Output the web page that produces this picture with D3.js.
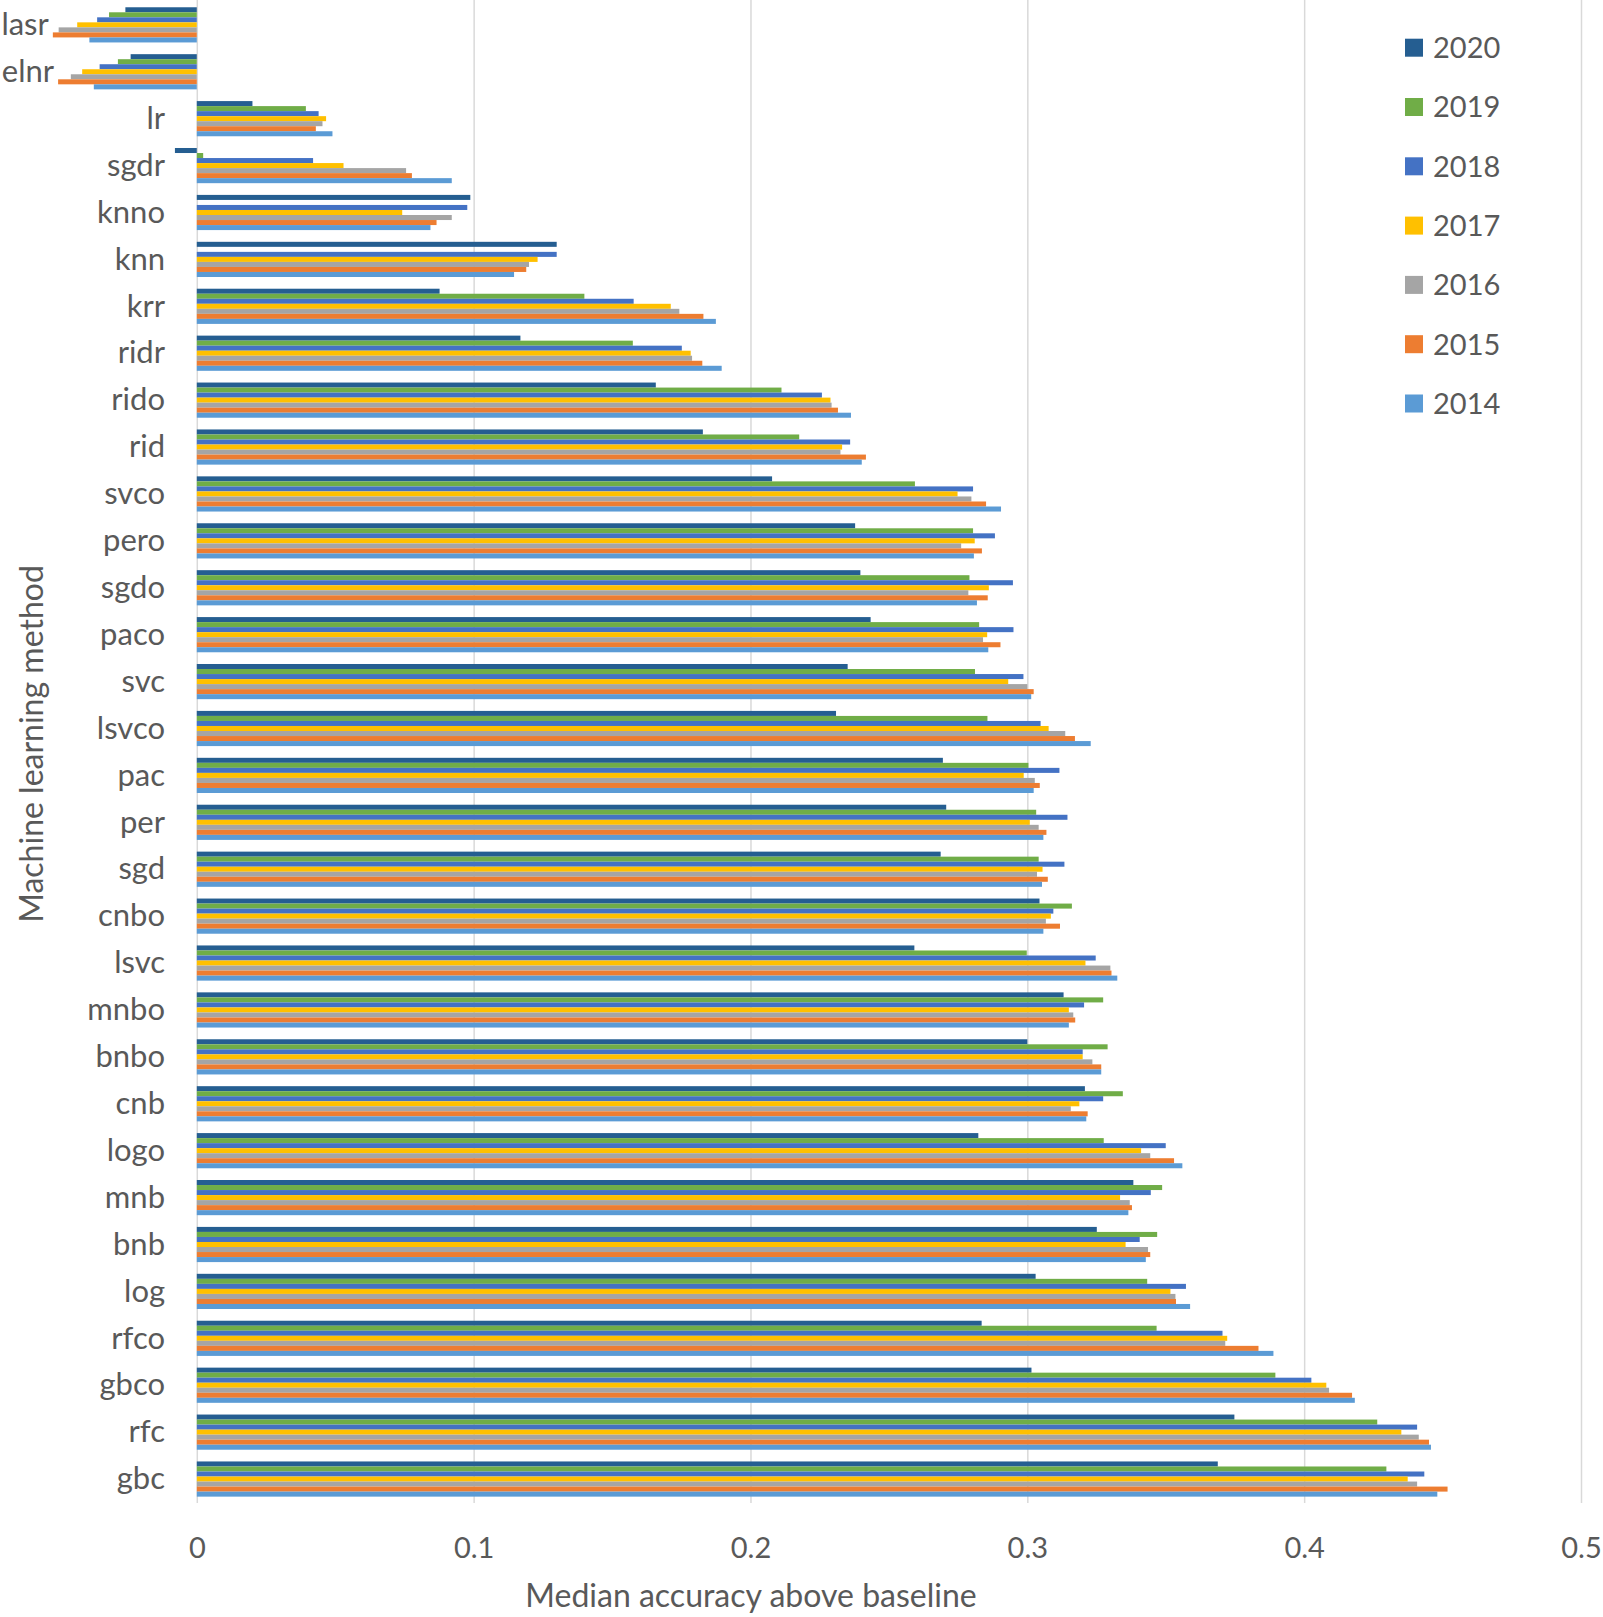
<!DOCTYPE html>
<html>
<head>
<meta charset="utf-8">
<script src="https://cdn.jsdelivr.net/npm/d3@7"></script>
<style>
  html, body { margin: 0; padding: 0; background: #ffffff; }
  svg { display: block; }
  text { font-family: Lato, "Open Sans", sans-serif; fill: #595959; }
</style>
</head>
<body>
<svg id="chart" width="1603" height="1617"></svg>
<script>
// ---- data ----
const categories = ["lasr","elnr","lr","sgdr","knno","knn","krr","ridr","rido","rid","svco","pero","sgdo","paco","svc","lsvco","pac","per","sgd","cnbo","lsvc","mnbo","bnbo","cnb","logo","mnb","bnb","log","rfco","gbco","rfc","gbc"];
const years = ["2020","2019","2018","2017","2016","2015","2014"];
const colors = ["#255E91","#70AD47","#4472C4","#FFC000","#A5A5A5","#ED7D31","#5B9BD5"];
const xTicks = [0, 0.1, 0.2, 0.3, 0.4, 0.5];
const xTickLabels = ["0","0.1","0.2","0.3","0.4","0.5"];

const v2020 = [-0.0258,-0.0239,0.0201,-0.0079,0.0988,0.130,0.0877,0.1169,0.1658,0.1828,0.2078,0.2378,0.2397,0.2434,0.2351,0.2309,0.2695,0.2707,0.2687,0.3044,0.2592,0.3131,0.300,0.3208,0.2823,0.3383,0.3251,0.303,0.2835,0.3015,0.3748,0.3688];
const v2019 = [-0.0317,-0.0285,0.0394,0.0023,null,null,0.140,0.1575,0.2112,0.2176,0.2594,0.2804,0.2791,0.2826,0.2811,0.2856,0.3004,0.3032,0.3041,0.3161,0.2998,0.3274,0.329,0.3345,0.3276,0.3487,0.3469,0.3433,0.3467,0.3896,0.4264,0.4297];
const v2018 = [-0.036,-0.0351,0.044,0.042,0.0977,0.130,0.1578,0.1752,0.2258,0.236,0.2804,0.2883,0.2948,0.295,0.2986,0.3048,0.3116,0.3145,0.3134,0.3094,0.3247,0.3205,0.32,0.3274,0.35,0.3446,0.3406,0.3573,0.3705,0.4026,0.4408,0.4434];
const v2017 = [-0.0432,-0.0414,0.0467,0.053,0.0742,0.1231,0.1712,0.1784,0.2289,0.2331,0.2748,0.281,0.2861,0.2855,0.2931,0.3077,0.2987,0.3009,0.3055,0.3085,0.321,0.315,0.32,0.3188,0.3411,0.3335,0.3355,0.3517,0.3722,0.408,0.4351,0.4374];
const v2016 = [-0.0499,-0.0455,0.0454,0.0756,0.0921,0.12,0.1743,0.1789,0.2293,0.2325,0.2798,0.2761,0.2787,0.284,0.3,0.3137,0.3027,0.3041,0.3035,0.3067,0.33,0.3166,0.3235,0.3157,0.3444,0.337,0.3436,0.3535,0.3715,0.409,0.4414,0.4408];
const v2015 = [-0.052,-0.0501,0.043,0.0777,0.0866,0.119,0.183,0.1826,0.2316,0.2417,0.2851,0.2836,0.2857,0.2903,0.3023,0.3172,0.3045,0.3069,0.3074,0.3118,0.3304,0.3173,0.3267,0.3218,0.353,0.3378,0.3444,0.3537,0.3835,0.4173,0.4451,0.4518];
const v2014 = [-0.0388,-0.0372,0.049,0.0921,0.0844,0.1146,0.1875,0.1896,0.2363,0.2402,0.2905,0.2807,0.2818,0.2859,0.3014,0.3229,0.3023,0.3058,0.3053,0.3058,0.3325,0.315,0.3267,0.3213,0.356,0.3365,0.3428,0.3588,0.3889,0.4183,0.4458,0.4481];

const xTitle = "Median accuracy above baseline";
const yTitle = "Machine learning method";

// ---- build ----
const seriesValues = [v2020, v2019, v2018, v2017, v2016, v2015, v2014];
const rows = [];
categories.forEach((c, ci) => {
  years.forEach((yr, yi) => {
    const v = seriesValues[yi][ci];
    if (v !== null) rows.push({cat: c, year: yr, value: v, color: colors[yi]});
  });
});

const svg = d3.select("#chart");
const plotTop = 0, plotBottom = 1503;

const x = d3.scaleLinear().domain([0, 0.5]).range([196.8, 1581]);
const y = d3.scaleBand().domain(categories).range([1.4, 1502.5]).paddingInner(0.25).paddingOuter(0.125);
const yInner = d3.scaleBand().domain(years).range([0, y.bandwidth()]);

// gridlines + tick labels
const xAxis = d3.axisBottom(x)
  .tickValues(xTicks)
  .tickFormat((d, i) => xTickLabels[i])
  .tickSize(-(plotBottom - plotTop))
  .tickPadding(0);
const gx = svg.append("g").attr("transform", `translate(0,${plotBottom})`).call(xAxis);
gx.select(".domain").remove();
gx.selectAll(".tick line").attr("stroke", "#D9D9D9").attr("stroke-width", 1.5);
gx.selectAll(".tick text")
  .attr("y", 55).attr("dy", 0)
  .style("font-family", "Lato, 'Open Sans', sans-serif")
  .style("font-size", "29px").attr("fill", "#595959");

// bars
svg.append("g").selectAll("rect").data(rows).join("rect")
  .attr("x", d => x(Math.min(0, d.value)))
  .attr("width", d => Math.abs(x(d.value) - x(0)))
  .attr("y", d => y(d.cat) + yInner(d.year))
  .attr("height", yInner.bandwidth())
  .attr("fill", d => d.color);

// category labels
const catMin = categories.map((c, ci) => d3.min(seriesValues, s => s[ci] === null ? 0 : s[ci]));
svg.append("g").selectAll("text").data(categories).join("text")
  .attr("x", (c, i) => Math.min(165, x(catMin[i]) - 4))
  .attr("y", c => y(c) + y.bandwidth() / 2)
  .attr("dy", "0.33em")
  .attr("text-anchor", "end")
  .style("font-size", "31px")
  .text(c => c);

// legend
const legend = svg.append("g").selectAll("g").data(years).join("g")
  .attr("transform", (d, i) => `translate(1405,${47.7 + i * 59.3})`);
legend.append("rect").attr("x", 0).attr("y", -9).attr("width", 18).attr("height", 18)
  .attr("fill", (d, i) => colors[i]);
legend.append("text").attr("x", 28).attr("y", 0).attr("dy", "0.36em")
  .style("font-size", "29px").text(d => d);

// axis titles
svg.append("text").attr("x", 751).attr("y", 1607).attr("text-anchor", "middle")
  .style("font-size", "32px").text(xTitle);
svg.append("text").attr("transform", "translate(43,744) rotate(-90)").attr("text-anchor", "middle")
  .style("font-size", "32px").text(yTitle);
</script>
</body>
</html>
